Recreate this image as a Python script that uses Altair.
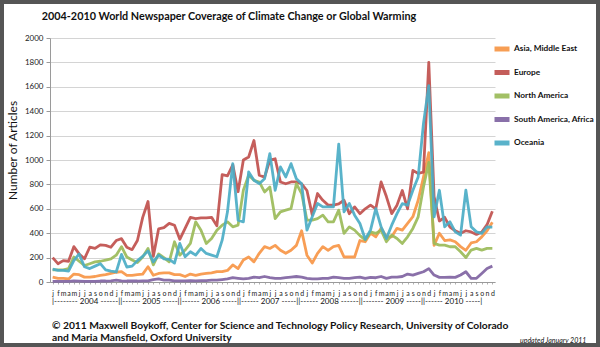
import altair as alt
import pandas as pd

months = ["j", "f", "m", "a", "m", "j", "j", "a", "s", "o", "n", "d"]
years = [2004, 2005, 2006, 2007, 2008, 2009, 2010]
series = ["Asia, Middle East", "Europe", "North America", "South America, Africa", "Oceania"]
colors = ["#F79646", "#C0504D", "#9BBB59", "#8064A2", "#4BACC6"]

asia = [40, 30, 30, 25, 65, 60, 40, 40, 45, 55, 60, 70,
        80, 85, 55, 55, 60, 65, 125, 55, 70, 75, 75, 60,
        60, 45, 65, 55, 65, 70, 75, 85, 85, 95, 140, 110,
        180, 205, 165, 235, 290, 275, 300, 260, 235, 260, 300, 420,
        220, 155, 235, 290, 260, 290, 300, 205, 205, 205, 340, 330,
        400, 370, 440, 370, 370, 440, 425, 480, 535, 670, 860, 1060,
        300, 400, 340, 345, 330, 290, 260, 320, 330, 370, 420, 490]
europe = [200, 150, 175, 170, 290, 230, 190, 285, 275, 305, 300, 285,
          340, 355, 285, 265, 340, 530, 660, 210, 435, 445, 480, 465,
          350, 440, 530, 520, 525, 525, 530, 460, 880, 870, 960, 740,
          1000, 1025, 1160, 875, 860, 1000, 1010, 820, 805, 820, 820, 805,
          750, 550, 725, 670, 630, 630, 640, 670, 560, 615, 560, 600,
          630, 600, 820, 700, 560, 630, 750, 600, 915, 890, 900, 1800,
          700, 500, 530, 450, 420, 400, 420, 410, 390, 410, 470, 580]
north_america = [100, 100, 100, 110, 205, 170, 135, 150, 165, 170, 180, 190,
                 220, 290, 205, 180, 160, 205, 275, 140, 230, 200, 165, 330,
                 220, 262, 316, 493, 425, 316, 357, 425, 466, 493, 452, 466,
                 752, 875, 834, 820, 738, 779, 520, 575, 589, 602, 806, 725,
                 507, 507, 520, 548, 493, 493, 589, 398, 452, 425, 380, 345,
                 411, 398, 425, 330, 384, 357, 316, 370, 439, 534, 779, 980,
                 316, 302, 302, 289, 289, 248, 200, 262, 275, 262, 275, 275]
south_america = [5, 5, 5, 5, 10, 8, 5, 5, 5, 8, 8, 10,
                 15, 10, 8, 8, 8, 10, 10, 20, 25, 15, 15, 10,
                 10, 10, 12, 10, 12, 12, 15, 15, 20, 25, 35, 30,
                 25, 30, 40, 35, 45, 35, 30, 30, 35, 40, 45, 40,
                 30, 25, 25, 30, 30, 40, 35, 30, 30, 35, 40, 30,
                 38, 35, 45, 30, 40, 40, 45, 65, 57, 70, 84, 110,
                 57, 38, 38, 40, 38, 57, 84, 30, 30, 70, 110, 130]
oceania = [105, 95, 95, 90, 175, 230, 125, 110, 130, 150, 100, 90,
           82, 226, 123, 130, 175, 210, 255, 165, 220, 190, 185, 155,
           316, 207, 248, 220, 275, 234, 220, 207, 343, 575, 970, 507,
           493, 902, 834, 806, 847, 1052, 752, 943, 861, 970, 847, 806,
           425, 534, 643, 616, 616, 616, 1130, 575, 643, 548, 480, 350,
           425, 602, 452, 357, 466, 561, 643, 629, 752, 861, 1300, 1610,
           534, 752, 452, 493, 411, 384, 752, 452, 411, 398, 452, 450]

values = [asia, europe, north_america, south_america, oceania]
rows = []
for s, vals in zip(series, values):
    for i, v in enumerate(vals):
        rows.append({"series": s, "idx": i, "articles": v})
df = pd.DataFrame(rows)

year_row = ("|-------- 2004 ------||------ 2005 -----||------ 2006 -----||------ 2007 -----||"
            "------ 2008 ------||------- 2009 -----||------ 2010 -----|")
title_text = "2004-2010 World Newspaper Coverage of Climate Change or Global Warming"
foot1 = "\u00a9 2011 Maxwell Boykoff, Center for Science and Technology Policy Research, University of Colorado"
foot2 = "and Maria Mansfield, Oxford University"
updated = "updated January 2011"

FONT = "Lato"
month_expr = "['j','f','m','a','m','j','j','a','s','o','n','d'][datum.value % 12]"

lines = alt.Chart(df).mark_line(strokeWidth=2.8, opacity=0.92, strokeJoin="round").encode(
    x=alt.X("idx:Q", scale=alt.Scale(domain=[-0.5, 83.5], nice=False, zero=False),
            axis=alt.Axis(values=list(range(84)), labelExpr=month_expr, labelFontSize=7,
                          labelOverlap=False, labelFlush=False, labelPadding=5, tickSize=2,
                          grid=False, title=None, domainColor="#9a9a9a", tickColor="#b0b0b0",
                          labelColor="#222", labelFont=FONT)),
    y=alt.Y("articles:Q", scale=alt.Scale(domain=[0, 2000], nice=False),
            axis=alt.Axis(values=list(range(0, 2001, 200)), format="d", labelFontSize=8,
                          labelPadding=3, tickSize=4, gridColor="#d4d4d4", domainColor="#9a9a9a",
                          tickColor="#9a9a9a", labelColor="#222", labelFont=FONT,
                          title="Number of Articles", titleFontSize=12, titleFontWeight="normal",
                          titleFont=FONT, titleColor="#111", titleX=-31, titleY=112)),
    color=alt.Color("series:N", scale=alt.Scale(domain=series, range=colors),
                    sort=series,
                    legend=alt.Legend(title=None, orient="none", legendX=442, legendY=1,
                                      symbolType="stroke", symbolStrokeWidth=5, symbolSize=225,
                                      labelFontSize=8.3, labelFontWeight="bold", labelFont=FONT,
                                      labelColor="#111", rowPadding=3.5, labelOffset=2,
                                      labelLimit=200)),
    detail="series:N",
)

def txt(text, x, y, size, weight="normal", style="normal", align="left"):
    return alt.Chart(pd.DataFrame({"t": [text]})).mark_text(
        align=align, baseline="middle", fontSize=size, fontWeight=weight, fontStyle=style,
        font=FONT, color="#111").encode(text="t:N", x=alt.value(x), y=alt.value(y))

border = alt.Chart(pd.DataFrame({"a": [0]})).mark_rect(
    fillOpacity=0, stroke="#555555", strokeWidth=4).encode(
    x=alt.value(-48), x2=alt.value(548), y=alt.value(-36), y2=alt.value(307))

chart = alt.layer(
    lines,
    txt(title_text, 179, -21, 10.8, weight="bold", align="center"),
    txt(year_row, 2, 264, 8),
    txt(foot1, 2, 288, 10.25, weight="bold"),
    txt(foot2, 2, 300, 10.25, weight="bold"),
    txt(updated, 470, 303, 7, style="italic"),
    border,
).properties(
    width=445, height=244,
    padding={"left": 50, "top": 38, "right": 105, "bottom": 65},
    autosize=alt.AutoSizeParams(type="none"),
    background="white",
).configure_view(stroke=None)

chart.save("out.html", embed_options={"renderer": "svg", "actions": False})
